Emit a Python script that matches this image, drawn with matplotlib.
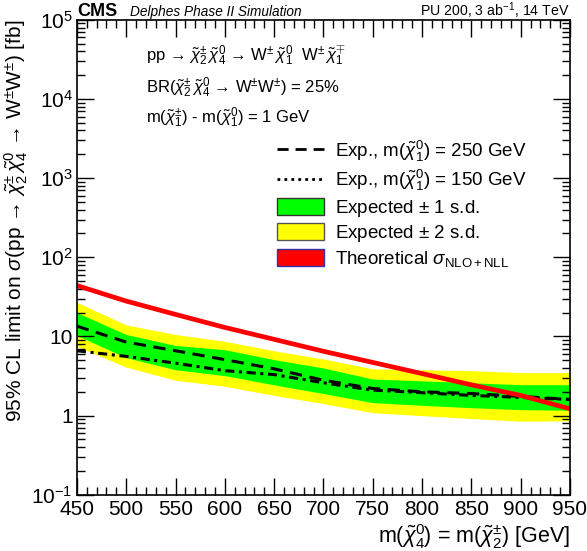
import numpy as np
import matplotlib
matplotlib.use("Agg")
import matplotlib.pyplot as plt
from matplotlib.lines import Line2D
from matplotlib.patches import Patch
from matplotlib.ticker import FixedLocator, LogLocator, NullFormatter, MultipleLocator

plt.rcParams['font.family'] = ['Liberation Sans', 'DejaVu Sans']
plt.rcParams['mathtext.fontset'] = 'custom'
plt.rcParams['mathtext.rm'] = 'Liberation Sans'
plt.rcParams['mathtext.it'] = 'Liberation Sans:italic'
plt.rcParams['mathtext.bf'] = 'Liberation Sans:bold'

# mass points [GeV]
mass = [450, 500, 550, 600, 650, 700, 750, 800, 850, 900, 950]

# expected limits [fb]
exp_250 = [13.5, 8.5, 6.6, 5.1, 3.9, 2.8, 2.2, 2.0, 1.9, 1.75, 1.6]
exp_150 = [6.6, 5.6, 4.6, 3.7, 3.3, 2.6, 2.1, 1.95, 1.8, 1.7, 1.6]

# bands around the m=250 GeV expected limit
up_2sd = [27, 14, 10.6, 8.7, 6.6, 5.2, 3.9, 3.8, 3.7, 3.5, 3.5]
up_1sd = [20, 10.6, 7.7, 6.8, 5.1, 4.0, 2.9, 2.75, 2.6, 2.46, 2.46]
dn_1sd = [10.3, 5.4, 3.8, 3.2, 2.45, 1.9, 1.46, 1.35, 1.26, 1.19, 1.17]
dn_2sd = [7.5, 4.1, 2.8, 2.35, 1.8, 1.42, 1.09, 1.0, 0.92, 0.85, 0.86]

# theory cross section [fb]
theory = [44, 28, 19, 13, 9.2, 6.5, 4.7, 3.4, 2.45, 1.8, 1.22]

ytick_vals = [0.1, 1, 10, 100, 1000, 1e4, 1e5]
ytick_labels = [r'$10^{-1}$', '1', '10', r'$10^{2}$', r'$10^{3}$', r'$10^{4}$', r'$10^{5}$']

fig = plt.figure(figsize=(5.87, 5.51), dpi=100)
ax = fig.add_axes([0.131, 0.102, 0.840, 0.862])

ax.fill_between(mass, dn_2sd, up_2sd, color='#ffff00', lw=0)
ax.fill_between(mass, dn_1sd, up_1sd, color='#00ff00', lw=0)
ax.plot(mass, exp_250, color='black', ls=(0, (4, 2.5)), lw=2.2)
ax.plot(mass, exp_150, color='black', ls=(0, (3, 1.5, 1, 1.5)), lw=2.2)
ax.plot(mass, theory, color='#ff0000', lw=3.4)

ax.set_yscale('log')
ax.set_xlim(450, 950)
ax.set_ylim(0.1, 1e5)
ax.yaxis.set_major_locator(FixedLocator(ytick_vals))
ax.set_yticklabels(ytick_labels)
ax.yaxis.set_minor_locator(LogLocator(base=10, subs=np.arange(2, 10)))
ax.yaxis.set_minor_formatter(NullFormatter())
ax.xaxis.set_major_locator(MultipleLocator(50))
ax.xaxis.set_minor_locator(MultipleLocator(10))

ax.tick_params(which='both', direction='in', top=True, right=True, labelsize=15)
ax.tick_params(which='major', length=12, width=1)
ax.tick_params(which='minor', length=6, width=1)
ax.tick_params(axis='x', pad=4)
ax.tick_params(axis='y', pad=3)
for s in ax.spines.values():
    s.set_linewidth(1.2)

ax.set_xlabel(r'm($\tilde{\chi}^{0}_{4}$) = m($\tilde{\chi}^{\pm}_{2}$) [GeV]', fontsize=15.5, loc='right', labelpad=2)
ax.set_ylabel(r'95% CL limit on $\sigma$(pp → $\tilde{\chi}^{\pm}_{2}\,\tilde{\chi}^{0}_{4}$ → W$^{\pm}$W$^{\pm}$) [fb]',
              fontsize=15, loc='top', labelpad=1)

fig.text(0.131, 0.971, 'CMS', fontsize=13, fontweight='bold', va='baseline')
fig.text(0.221, 0.971, 'Delphes Phase II Simulation', fontsize=9.8, style='italic', va='baseline')
fig.text(0.971, 0.971, r'PU 200, 3 ab$^{-1}$, 14 TeV', fontsize=10.2, ha='right', va='baseline')

ax.text(0.14, 0.925, r'pp → $\tilde{\chi}^{\pm}_{2}\,\tilde{\chi}^{0}_{4}$ → W$^{\pm}\,\tilde{\chi}^{0}_{1}$  W$^{\pm}\,\tilde{\chi}^{\mp}_{1}$',
        transform=ax.transAxes, fontsize=12, va='center')
ax.text(0.14, 0.857, r'BR($\tilde{\chi}^{\pm}_{2}\,\tilde{\chi}^{0}_{4}$ → W$^{\pm}$W$^{\pm}$) = 25%',
        transform=ax.transAxes, fontsize=12, va='center')
ax.text(0.14, 0.794, r'm($\tilde{\chi}^{\pm}_{1}$) - m($\tilde{\chi}^{0}_{1}$) = 1 GeV',
        transform=ax.transAxes, fontsize=12, va='center')

handles = [
    Line2D([], [], color='black', ls=(0, (4, 2.5)), lw=2),
    Line2D([], [], color='black', ls=(0, (1, 1.5)), lw=2),
    Patch(facecolor='#00ff00', edgecolor='#333333', lw=1),
    Patch(facecolor='#ffff00', edgecolor='#555555', lw=1),
    Patch(facecolor='#ff0000', edgecolor='#3333aa', lw=1),
]
labels = [
    r'Exp., m($\tilde{\chi}^{0}_{1}$) = 250 GeV',
    r'Exp., m($\tilde{\chi}^{0}_{1}$) = 150 GeV',
    r'Expected $\pm$ 1 s.d.',
    r'Expected $\pm$ 2 s.d.',
    r'Theoretical $\sigma_{\mathrm{NLO+NLL}}$',
]
ax.legend(handles, labels, loc='upper left', bbox_to_anchor=(0.38, 0.778), frameon=False,
          fontsize=13.5, handlelength=2.5, handleheight=1.0, labelspacing=0.24, handletextpad=0.55,
          borderpad=0.2)

fig.savefig('out.png', dpi=100)
